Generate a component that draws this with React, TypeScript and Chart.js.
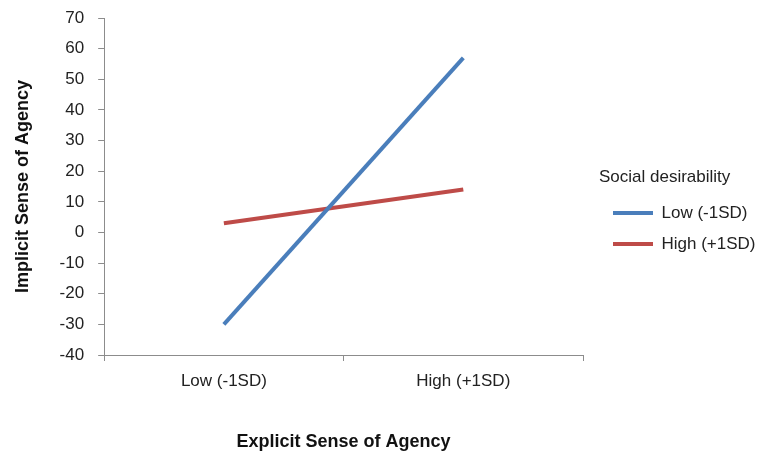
import React, { useEffect, useRef } from "react";
import { Chart, registerables } from "chart.js";

Chart.register(...registerables);

const categories = ["Low (-1SD)", "High (+1SD)"];
const lowSD = [-30, 57];
const highSD = [3, 14];
const seriesNames = ["Low (-1SD)", "High (+1SD)"];
const legendTitle = "Social desirability";
const yTitle = "Implicit Sense of Agency";
const xTitle = "Explicit Sense of Agency";

const FONT = "'Liberation Sans', Arial, sans-serif";
const LEGEND_WIDTH = 160;

const legendWidthPlugin = {
  id: "legendWidth",
  beforeLayout(chart: any) {
    const lg = chart.legend;
    if (lg && !lg.__patched) {
      const orig = lg.fit.bind(lg);
      lg.fit = () => {
        orig();
        lg.width = LEGEND_WIDTH;
      };
      lg.__patched = true;
    }
  },
};

export default function App() {
  const ref = useRef<HTMLCanvasElement | null>(null);
  useEffect(() => {
    document.body.style.margin = "0";
    const ctx = ref.current!;
    const chart = new Chart(ctx, {
      type: "line",
      plugins: [legendWidthPlugin],
      data: {
        labels: categories,
        datasets: [
          {
            label: seriesNames[0],
            data: lowSD,
            borderColor: "#4a7ebb",
            backgroundColor: "#4a7ebb",
            borderWidth: 4,
            pointRadius: 0,
            tension: 0,
          },
          {
            label: seriesNames[1],
            data: highSD,
            borderColor: "#be4b48",
            backgroundColor: "#be4b48",
            borderWidth: 4,
            pointRadius: 0,
            tension: 0,
          },
        ],
      },
      options: {
        animation: false,
        responsive: true,
        maintainAspectRatio: false,
        layout: { padding: { top: 4, right: 0, left: 12, bottom: 1 } },
        plugins: {
          tooltip: { enabled: false },
          legend: {
            position: "right",
            align: "start",
            title: {
              display: true,
              text: legendTitle,
              position: "start",
              color: "#222",
              font: { family: FONT, size: 17 },
              padding: { top: 165, bottom: 1 },
            },
            labels: {
              boxWidth: 40,
              boxHeight: 4,
              padding: 14,
              color: "#222",
              font: { family: FONT, size: 17 },
              generateLabels: (c: any) =>
                Chart.defaults.plugins.legend.labels
                  .generateLabels(c)
                  .map((l: any) => ({ ...l, lineWidth: 0 })),
            },
          },
        },
        scales: {
          x: {
            offset: true,
            grid: {
              display: true,
              drawOnChartArea: false,
              drawTicks: true,
              tickLength: 6,
              color: "#8c8c8c",
              offset: true,
            },
            border: { display: true, color: "#8c8c8c", width: 1 },
            ticks: {
              color: "#222",
              font: { family: FONT, size: 17 },
              padding: 10,
              maxRotation: 0,
            },
            title: {
              display: true,
              text: xTitle,
              color: "#111",
              font: { family: FONT, size: 18, weight: "bold" },
              padding: { top: 30, bottom: 0 },
            },
          },
          y: {
            min: -40,
            max: 70,
            afterFit: (s: any) => {
              s.paddingTop = 18;
            },
            grid: {
              display: true,
              drawOnChartArea: false,
              drawTicks: true,
              tickLength: 6,
              color: "#8c8c8c",
            },
            border: { display: true, color: "#8c8c8c", width: 1 },
            ticks: {
              stepSize: 10,
              color: "#222",
              font: { family: FONT, size: 17 },
              padding: 14,
            },
            title: {
              display: true,
              text: yTitle,
              color: "#111",
              font: { family: FONT, size: 18, weight: "bold" },
              padding: { top: 0, bottom: 12 },
            },
          },
          gap: {
            type: "linear",
            position: "right",
            display: true,
            grid: { display: false },
            border: { display: false },
            ticks: { display: false },
            afterFit: (s: any) => {
              s.width = 16;
            },
          },
        },
      },
    });
    return () => chart.destroy();
  }, []);
  return (
    <div style={{ position: "fixed", left: 0, top: 0, width: 759, height: 454 }}>
      <canvas ref={ref} />
    </div>
  );
}
